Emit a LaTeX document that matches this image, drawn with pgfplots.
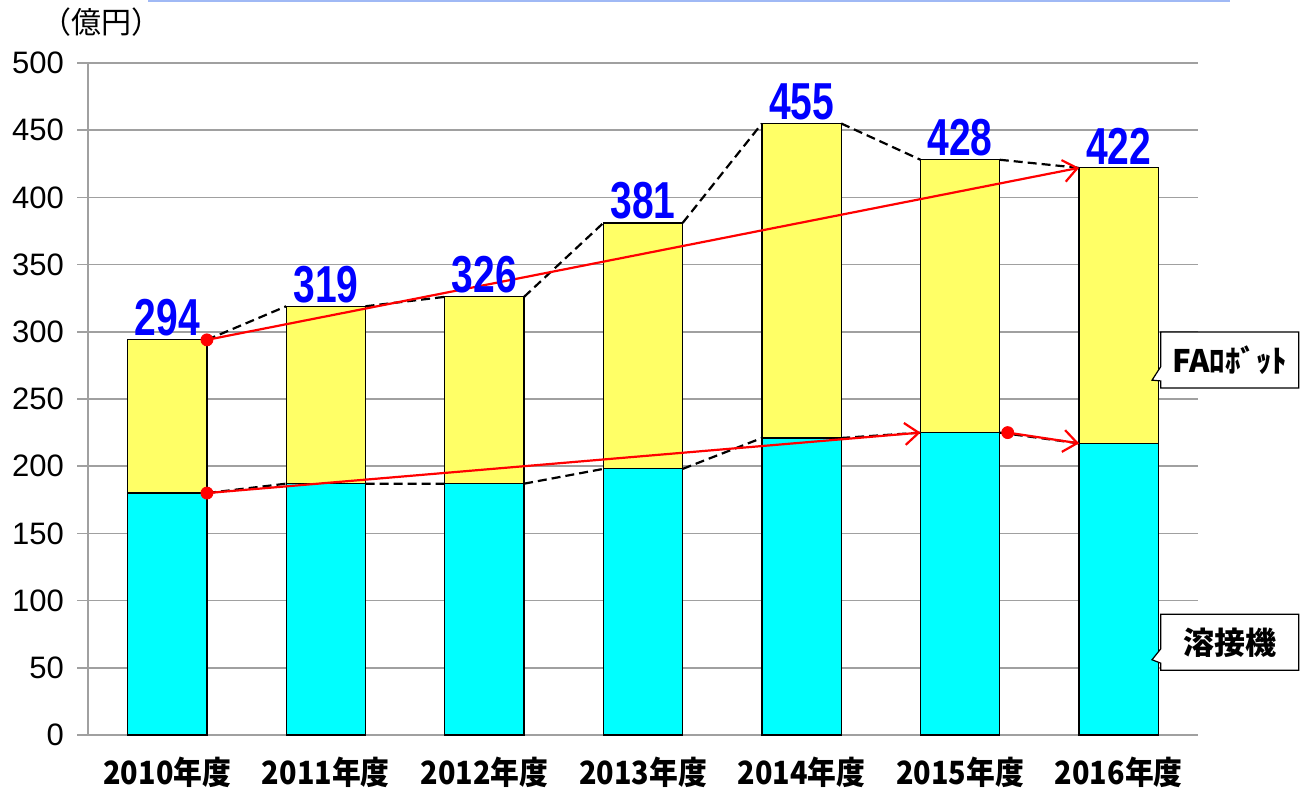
\documentclass[border=0pt]{standalone}
\usepackage{fontspec}
\setmainfont{Liberation Sans}
\newfontfamily\jp{Noto Sans CJK JP}
\usepackage{pgfplots}
\pgfplotsset{compat=1.18}
\usetikzlibrary{arrows.meta,shapes.callouts}
\definecolor{barY}{RGB}{255,255,102}
\definecolor{barC}{RGB}{0,255,255}
\definecolor{gridG}{RGB}{160,160,160}
\definecolor{topline}{RGB}{160,185,245}
\newcommand\yl[1]{\scalebox{0.9}[1]{#1年度}}

\begin{document}
\begin{tikzpicture}
\begin{axis}[name=main,
  scale only axis, width=555pt, height=336pt,
  xmin=-0.5, xmax=6.5, ymin=0, ymax=500,
  ytick={0,50,...,500},
  xtick={0,...,6},
  xticklabels={\yl{2010},\yl{2011},\yl{2012},\yl{2013},\yl{2014},\yl{2015},\yl{2016}},
  x tick label style={font=\jp\bfseries\fontsize{16}{16}\selectfont, yshift=-2pt},
  y tick label style={font=\fontsize{15.5}{15.5}\selectfont, xshift=-3pt},
  /pgf/number format/assume math mode=true,
  axis lines*=left, axis line style={gridG, line width=0.8pt},
  ymajorgrids, grid style={gridG, line width=0.8pt},
  xtick style={draw=none}, ytick style={gridG, line width=0.8pt},
  tick align=outside, major tick length=5.5pt,
  clip=false,
  unbounded coords=jump,
]
% totals (yellow = FA robots on top of welders)
\addplot[ybar, bar width=0.5, bar shift=0pt, fill=barY, draw=black, line width=0.6pt,
  nodes near coords={\scalebox{0.75}[1]{\pgfmathprintnumber{\pgfplotspointmeta}}},
  nodes near coords style={font=\bfseries\fontsize{26}{26}\selectfont, text=blue, anchor=south, inner sep=1.5pt}]
  coordinates {(0,294) (1,319) (2,326) (3,381) (4,455) (5,428) (6,422)};
% welders
\addplot[ybar, bar width=0.5, bar shift=0pt, fill=barC, draw=black, line width=0.6pt]
  coordinates {(0,180) (1,187) (2,187) (3,198) (4,221) (5,225) (6,217)};

% dashed connectors
\addplot[black, line width=1.1pt, dash pattern=on 4.5pt off 2.5pt]
  coordinates {(0.25,294) (0.75,319) (1,nan) (1.25,319) (1.75,326) (2,nan)
    (2.25,326) (2.75,381) (3,nan) (3.25,381) (3.75,455) (4,nan)
    (4.25,455) (4.75,428) (5,nan) (5.25,428) (5.75,422)};
\addplot[black, line width=1.1pt, dash pattern=on 4.5pt off 2.5pt]
  coordinates {(0.25,180) (0.75,187) (1,nan) (1.25,187) (1.75,187) (2,nan)
    (2.25,187) (2.75,198) (3,nan) (3.25,198) (3.75,221) (4,nan)
    (4.25,221) (4.75,225) (5,nan) (5.25,225) (5.75,217)};

% red trend arrows
\addplot[red, line width=1.1pt, -{Straight Barb[length=7pt,width=11pt,line width=1.1pt]}]
  coordinates {(0.25,294) (5.75,422)};
\addplot[red, line width=1.1pt, -{Straight Barb[length=7pt,width=11pt,line width=1.1pt]}]
  coordinates {(0.25,180) (4.75,225)};
\addplot[red, line width=1.1pt, -{Straight Barb[length=7pt,width=11pt,line width=1.1pt]}]
  coordinates {(5.3,225) (5.75,217)};
\addplot[only marks, mark=*, mark size=3pt, red]
  coordinates {(0.25,294) (0.25,180) (5.3,225)};

% callout legends
\node[rectangle callout, draw=black, fill=white, line width=0.6pt,
  callout absolute pointer={(axis cs:6.21,264)},
  font=\jp\bfseries\fontsize{15.5}{15.5}\selectfont,
  minimum width=69pt, minimum height=28pt] at (axis cs:6.7,279) {FAﾛﾎﾞｯﾄ};
\node[rectangle callout, draw=black, fill=white, line width=0.6pt,
  callout absolute pointer={(axis cs:6.21,56)},
  font=\jp\bfseries\fontsize{15.5}{15.5}\selectfont,
  minimum width=69pt, minimum height=28pt] at (axis cs:6.7,69) {溶接機};
\end{axis}
\node[anchor=west, font=\jp\fontsize{15}{15}\selectfont]
  at ([xshift=-27pt,yshift=20.5pt]main.north west) {（億円）};
\draw[topline, line width=1pt] ([xshift=30pt,yshift=31pt]main.north west)
  -- ([xshift=16pt,yshift=31pt]main.north east);
\pgfresetboundingbox
\path[use as bounding box] ([xshift=-44pt,yshift=-26pt]main.south west)
  rectangle ([xshift=52.5pt,yshift=31.5pt]main.north east);
\end{tikzpicture}
\end{document}
